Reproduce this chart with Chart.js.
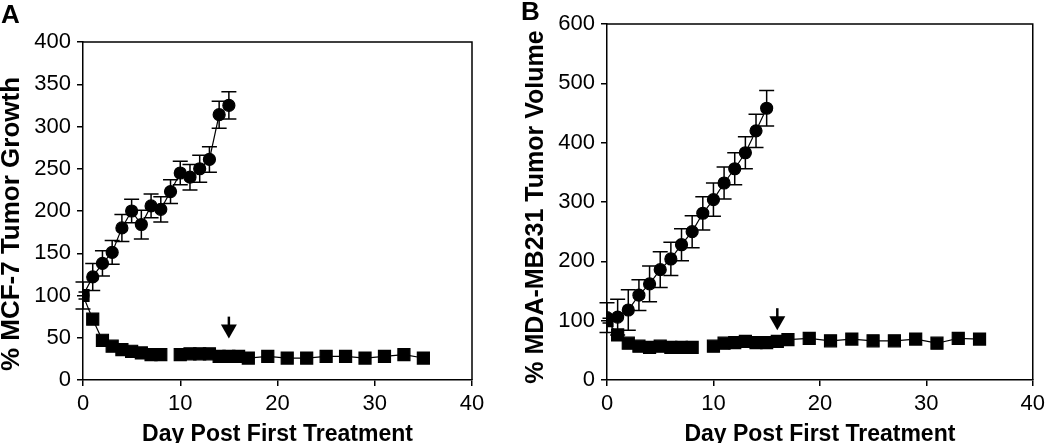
<!DOCTYPE html>
<html>
<head>
<meta charset="utf-8">
<script src="https://cdn.jsdelivr.net/npm/chart.js@4.4.1/dist/chart.umd.min.js"></script>
<style>
body { margin: 0; background: #fff; }
#wrap { position: relative; width: 1050px; height: 443px; overflow: hidden; }
canvas { position: absolute; top: 0; }
#chartA { left: 0; }
#chartB { left: 525px; }
.panel { position: absolute; font: bold 26px "Liberation Sans", Arial, sans-serif; line-height: 1; color: #000; }
</style>
</head>
<body>
<div id="wrap">
  <canvas id="chartA" width="525" height="443"></canvas>
  <canvas id="chartB" width="525" height="443"></canvas>
  <div class="panel" style="left:1px;top:1px">A</div>
  <div class="panel" style="left:521px;top:-2px">B</div>
</div>
<script>
"use strict"

// panel A : MCF-7
let daysCtrlA = [0, 1, 2, 3, 4, 5, 6, 7, 8, 9, 10, 11, 12, 13, 14, 15];
let ctrlA = [100, 122, 138, 151, 180, 200, 184, 206, 202, 223, 245, 240, 250, 261, 314, 325];
let ctrlErrA = [16, 16, 15, 14, 16, 14, 17, 14, 15, 14, 14, 15, 16, 15, 16, 16];

let daysTrtA = [0, 1, 2, 3, 4, 5, 6, 7, 8, 9, 10, 11, 12, 13, 14, 15, 16, 17, 19, 21, 23, 25, 27, 29, 31, 33, 35];
let trtA = [100, 72, 47, 40, 36, 34, 32, 30, 30, null, 30, 31, 31, 31, 28, 28, 28, 26, 28, 26, 26, 28, 28, 26, 28, 30, 26];
let trtErrA = [4, 5, 4, 4, 3, 3, 3, 3, 4, null, 3, 3, 3, 3, 3, 3, 3, 4, 4, 4, 4, 4, 4, 4, 4, 4, 4];

// panel B : MDA-MB231
let daysCtrlB = [0, 1, 2, 3, 4, 5, 6, 7, 8, 9, 10, 11, 12, 13, 14, 15];
let ctrlB = [105, 106, 118, 143, 162, 186, 204, 228, 250, 281, 304, 332, 356, 383, 420, 458];
let ctrlErrB = [25, 30, 34, 26, 30, 30, 28, 27, 27, 28, 28, 27, 27, 27, 28, 30];

let daysTrtB = [0, 1, 2, 3, 4, 5, 6, 7, 8, 9, 10, 11, 12, 13, 14, 15, 16, 17, 19, 21, 23, 25, 27, 29, 31, 33, 35];
let trtB = [100, 76, 62, 57, 55, 57, 55, 55, 55, null, 57, 62, 63, 65, 63, 63, 65, 68, 70, 66, 69, 66, 66, 69, 62, 70, 69];
let trtErrB = [4, 5, 4, 4, 3, 3, 3, 3, 4, null, 3, 3, 3, 3, 3, 3, 3, 4, 4, 4, 4, 4, 4, 4, 4, 4, 4];

// end of treatment arrows [day, top value, tip value]
let arrowA = [15, 75, 49];
let arrowB = [16, 121, 84];

let xTicks = [0, 10, 20, 30, 40];

const FONT = '"Liberation Sans", Arial, Helvetica, sans-serif';

function toPoints(days, vals) {
    let pts = [];
    for (let i = 0; i < days.length; i++) {
        pts.push({ x: days[i], y: vals[i] });
    }
    return pts;
}

// error bars drawn under the markers
const errorBars = {
    id: 'errorBars',
    beforeDatasetsDraw(chart) {
        const ctx = chart.ctx;
        const xs = chart.scales.x;
        const ys = chart.scales.y;
        ctx.save();
        ctx.strokeStyle = '#000';
        ctx.lineWidth = 1.5;
        chart.data.datasets.forEach(function (ds) {
            let half = ds.capWidth / 2;
            for (let i = 0; i < ds.data.length; i++) {
                let p = ds.data[i];
                if (p.y === null) continue;
                let e = ds.errors[i];
                let px = xs.getPixelForValue(p.x);
                let yTop = ys.getPixelForValue(p.y + e);
                let yBot = ys.getPixelForValue(p.y - e);
                ctx.beginPath();
                ctx.moveTo(px, yTop);
                ctx.lineTo(px, yBot);
                ctx.moveTo(px - half, yTop);
                ctx.lineTo(px + half, yTop);
                ctx.moveTo(px - half, yBot);
                ctx.lineTo(px + half, yBot);
                ctx.stroke();
            }
        });
        ctx.restore();
    }
};

// box round the plot, the arrow and the y title
const frame = {
    id: 'frame',
    afterDraw(chart, args, opts) {
        const ctx = chart.ctx;
        const a = chart.chartArea;
        const xs = chart.scales.x;
        const ys = chart.scales.y;
        ctx.save();
        ctx.strokeStyle = '#000';
        ctx.lineWidth = 1.5;
        ctx.beginPath();
        ctx.moveTo(a.left, a.top);
        ctx.lineTo(a.right, a.top);
        ctx.lineTo(a.right, a.bottom);
        ctx.stroke();

        let arrow = opts.arrow;
        let ax = xs.getPixelForValue(arrow[0]);
        let top = ys.getPixelForValue(arrow[1]);
        let tip = ys.getPixelForValue(arrow[2]);
        ctx.lineWidth = 2.5;
        ctx.beginPath();
        ctx.moveTo(ax, top);
        ctx.lineTo(ax, tip - 10);
        ctx.stroke();
        ctx.fillStyle = '#000';
        ctx.beginPath();
        ctx.moveTo(ax - 8, tip - 14);
        ctx.lineTo(ax + 8, tip - 14);
        ctx.lineTo(ax, tip);
        ctx.closePath();
        ctx.fill();

        // y title, placed like the original figure
        ctx.translate(opts.titleX, opts.titleY);
        ctx.rotate(-Math.PI / 2);
        ctx.font = 'bold ' + opts.titleSize + 'px ' + FONT;
        ctx.textAlign = 'center';
        ctx.textBaseline = 'middle';
        ctx.fillText(opts.title, 0, 0);
        ctx.restore();
    }
};

function makeChart(canvasId, cfg) {
    const data = {
        datasets: [{
            data: toPoints(cfg.ctrlDays, cfg.ctrl),
            errors: cfg.ctrlErr,
            capWidth: 15,
            pointStyle: 'circle',
            pointRadius: 6,
            borderColor: '#000',
            backgroundColor: '#000',
            borderWidth: 1.2,
            showLine: true,
            spanGaps: false
        }, {
            data: toPoints(cfg.trtDays, cfg.trt),
            errors: cfg.trtErr,
            capWidth: 9,
            pointStyle: 'rect',
            pointRadius: 8.5,
            borderColor: '#000',
            backgroundColor: '#000',
            borderWidth: 1.2,
            showLine: true,
            spanGaps: false
        }]
    };

    const config = {
        type: 'scatter',
        data: data,
        options: {
            responsive: false,
            animation: false,
            layout: { padding: { left: 0, top: cfg.top, right: cfg.right, bottom: 0 } },
            plugins: {
                legend: { display: false },
                tooltip: { enabled: false },
                frame: {
                    arrow: cfg.arrow,
                    title: cfg.yTitle,
                    titleSize: cfg.titleSize,
                    titleX: cfg.titleX,
                    titleY: cfg.titleY
                }
            },
            elements: { point: { borderWidth: 1 } },
            scales: {
                x: {
                    type: 'linear',
                    min: 0,
                    max: 40,
                    afterFit: function (scale) { scale.height = 63; },
                    afterBuildTicks: function (scale) {
                        scale.ticks = xTicks.map(function (v) { return { value: v }; });
                    },
                    grid: { drawOnChartArea: false, color: '#000', tickLength: 6, lineWidth: 1.5 },
                    border: { color: '#000', width: 1.5 },
                    ticks: { color: '#000', padding: 5, font: { family: FONT, size: 22 } },
                    title: {
                        display: true,
                        text: 'Day Post First Treatment',
                        color: '#000',
                        padding: 0,
                        font: { family: FONT, size: 23, weight: 'bold', lineHeight: 0.7 }
                    }
                },
                y: {
                    min: 0,
                    max: cfg.yMax,
                    afterFit: function (scale) { scale.width = cfg.left; },
                    ticks: { stepSize: cfg.yStep, color: '#000', padding: 6, font: { family: FONT, size: 22 } },
                    grid: { drawOnChartArea: false, color: '#000', tickLength: 6, lineWidth: 1.5 },
                    border: { color: '#000', width: 1.5 }
                }
            }
        },
        plugins: [errorBars, frame]
    };

    return new Chart(document.getElementById(canvasId), config);
}

makeChart('chartA', {
    ctrlDays: daysCtrlA, ctrl: ctrlA, ctrlErr: ctrlErrA,
    trtDays: daysTrtA, trt: trtA, trtErr: trtErrA,
    arrow: arrowA,
    yMax: 400, yStep: 50,
    yTitle: '% MCF-7 Tumor Growth',
    titleSize: 26, titleX: 12, titleY: 224,
    left: 83, top: 42, right: 53
});

makeChart('chartB', {
    ctrlDays: daysCtrlB, ctrl: ctrlB, ctrlErr: ctrlErrB,
    trtDays: daysTrtB, trt: trtB, trtErr: trtErrB,
    arrow: arrowB,
    yMax: 600, yStep: 100,
    yTitle: '% MDA-MB231 Tumor Volume',
    titleSize: 25, titleX: 11, titleY: 207,
    left: 82, top: 24, right: 14
});
</script>
</body>
</html>
